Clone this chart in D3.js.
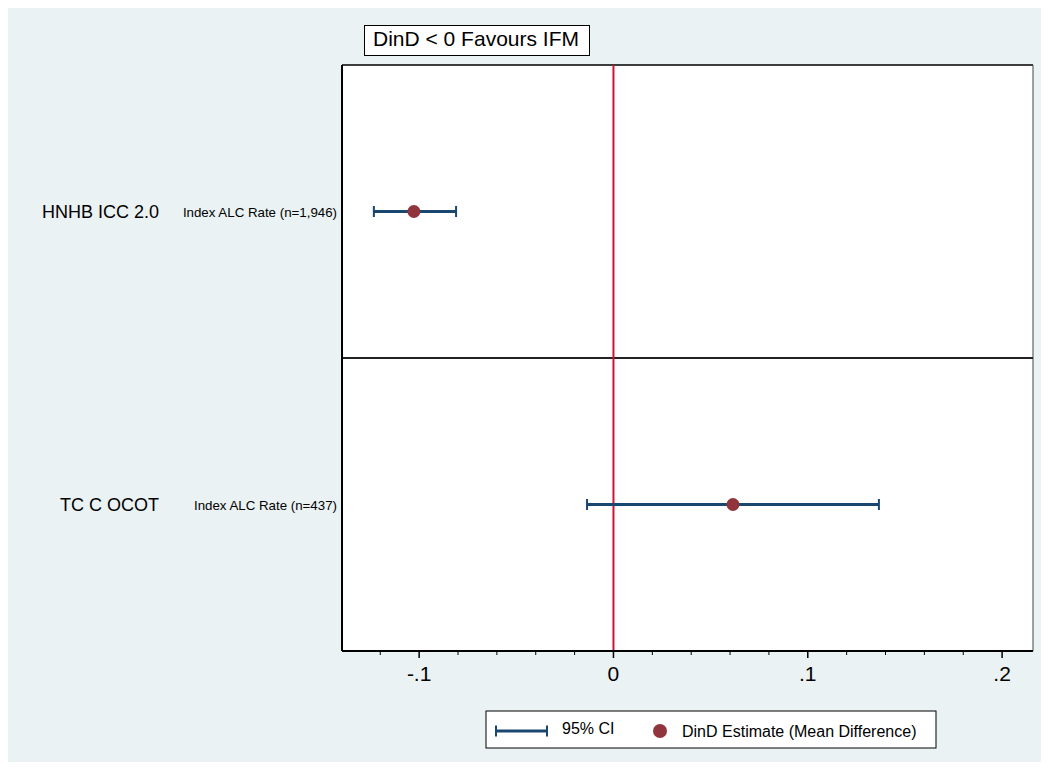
<!DOCTYPE html>
<html>
<head>
<meta charset="utf-8">
<script src="https://cdn.jsdelivr.net/npm/d3@7"></script>
<style>
  body { margin: 0; background: #ffffff; }
  text { font-family: "Liberation Sans", Arial, sans-serif; }
</style>
</head>
<body>
<div id="chart"></div>
<script>
// data
var studies = ["HNHB ICC 2.0", "TC C OCOT"];
var outcomes = ["Index ALC Rate (n=1,946)", "Index ALC Rate (n=437)"];
var estimates = [-0.1027, 0.0615];
var lower = [-0.1233, -0.0136];
var upper = [-0.0810, 0.1366];
var majorTicks = [-0.1, 0, 0.1, 0.2];
var tickLabels = ["-.1", "0", ".1", ".2"];
var minorTicks = [-0.12, -0.08, -0.06, -0.04, -0.02, 0.02, 0.04, 0.06, 0.08, 0.12, 0.14, 0.16, 0.18];

var W = 1049, H = 770;
var margin = {top: 65, right: 16, bottom: 119, left: 342},
    width = W - margin.left - margin.right,
    height = H - margin.top - margin.bottom;

var svg = d3.select("#chart")
  .append("svg")
    .attr("width", W)
    .attr("height", H);

// outer light background
svg.append("rect")
  .attr("x", 8).attr("y", 8)
  .attr("width", W - 16).attr("height", H - 16)
  .attr("fill", "#eaf2f3");

var g = svg.append("g")
  .attr("transform", "translate(" + margin.left + "," + margin.top + ")");

var x = d3.scaleLinear()
  .domain([-0.1397, 0.2159])
  .range([0, width]);

var y = d3.scaleBand()
  .domain(studies)
  .range([0, height]);

// plot region
g.append("rect")
  .attr("width", width).attr("height", height)
  .attr("fill", "#ffffff");

// frame and panel divider
g.append("line")
  .attr("x1", 0).attr("x2", width)
  .attr("y1", 0).attr("y2", 0)
  .attr("stroke", "#000").attr("stroke-width", 1.5);
g.append("line")
  .attr("x1", width).attr("x2", width)
  .attr("y1", 0).attr("y2", height)
  .attr("stroke", "#444").attr("stroke-width", 1);
g.append("line")
  .attr("x1", 0).attr("x2", width)
  .attr("y1", y(studies[1])).attr("y2", y(studies[1]))
  .attr("stroke", "#222").attr("stroke-width", 2);
g.append("line")
  .attr("x1", 0).attr("x2", 0)
  .attr("y1", 0).attr("y2", height)
  .attr("stroke", "#000").attr("stroke-width", 2);

// reference line at 0
g.append("line")
  .attr("x1", x(0)).attr("x2", x(0))
  .attr("y1", 0).attr("y2", height)
  .attr("stroke", "#d0103a").attr("stroke-width", 2);

// x axis
var xAxis = g.append("g")
  .attr("transform", "translate(0," + height + ")");
xAxis.append("line")
  .attr("x1", 0).attr("x2", width)
  .attr("stroke", "#000").attr("stroke-width", 2);
xAxis.selectAll(".minor")
  .data(minorTicks)
  .enter()
  .append("line")
    .attr("x1", function(d) { return x(d); })
    .attr("x2", function(d) { return x(d); })
    .attr("y1", 0).attr("y2", 4)
    .attr("stroke", "#000").attr("stroke-width", 1);
xAxis.selectAll(".major")
  .data(majorTicks)
  .enter()
  .append("line")
    .attr("x1", function(d) { return x(d); })
    .attr("x2", function(d) { return x(d); })
    .attr("y1", 0).attr("y2", 7)
    .attr("stroke", "#000").attr("stroke-width", 1.5);
xAxis.selectAll(".lab")
  .data(majorTicks)
  .enter()
  .append("text")
    .attr("x", function(d) { return x(d); })
    .attr("y", 30)
    .attr("text-anchor", "middle")
    .style("font-size", "21px")
    .text(function(d, i) { return tickLabels[i]; });

// row labels
var rowMid = function(d) { return y(d) + y.bandwidth() / 2; };
g.selectAll(".study")
  .data(studies)
  .enter()
  .append("text")
    .attr("x", 159 - margin.left)
    .attr("y", function(d) { return rowMid(d) + 6; })
    .attr("text-anchor", "end")
    .style("font-size", "18px")
    .text(function(d) { return d; });
g.selectAll(".outcome")
  .data(outcomes)
  .enter()
  .append("text")
    .attr("x", -5)
    .attr("y", function(d, i) { return rowMid(studies[i]) + 5; })
    .attr("text-anchor", "end")
    .style("font-size", "13.3px")
    .text(function(d) { return d; });

// CI bars
var ci = g.selectAll(".ci")
  .data(studies)
  .enter()
  .append("g");
ci.append("line")
  .attr("x1", function(d, i) { return x(lower[i]); })
  .attr("x2", function(d, i) { return x(upper[i]); })
  .attr("y1", rowMid).attr("y2", rowMid)
  .attr("stroke", "#1a476f").attr("stroke-width", 3);
ci.append("line")
  .attr("x1", function(d, i) { return x(lower[i]); })
  .attr("x2", function(d, i) { return x(lower[i]); })
  .attr("y1", function(d) { return rowMid(d) - 5.5; })
  .attr("y2", function(d) { return rowMid(d) + 5.5; })
  .attr("stroke", "#1a476f").attr("stroke-width", 2);
ci.append("line")
  .attr("x1", function(d, i) { return x(upper[i]); })
  .attr("x2", function(d, i) { return x(upper[i]); })
  .attr("y1", function(d) { return rowMid(d) - 5.5; })
  .attr("y2", function(d) { return rowMid(d) + 5.5; })
  .attr("stroke", "#1a476f").attr("stroke-width", 2);

// point estimates
g.selectAll(".est")
  .data(studies)
  .enter()
  .append("circle")
    .attr("cx", function(d, i) { return x(estimates[i]); })
    .attr("cy", rowMid)
    .attr("r", 6.5)
    .attr("fill", "#90353b");

// title box
svg.append("rect")
  .attr("x", 364.5).attr("y", 25.5)
  .attr("width", 225).attr("height", 30)
  .attr("fill", "#ffffff").attr("stroke", "#000").attr("stroke-width", 1);
svg.append("text")
  .attr("x", 373).attr("y", 46)
  .style("font-size", "21px")
  .text("DinD < 0 Favours IFM");

// legend
var leg = svg.append("g");
leg.append("rect")
  .attr("x", 486).attr("y", 711)
  .attr("width", 450).attr("height", 37)
  .attr("fill", "#ffffff").attr("stroke", "#000").attr("stroke-width", 1);
leg.append("line")
  .attr("x1", 496).attr("x2", 547).attr("y1", 731).attr("y2", 731)
  .attr("stroke", "#1a476f").attr("stroke-width", 3);
leg.selectAll(".cap")
  .data([496, 547])
  .enter()
  .append("line")
    .attr("x1", function(d) { return d; }).attr("x2", function(d) { return d; })
    .attr("y1", 725.5).attr("y2", 736.5)
    .attr("stroke", "#1a476f").attr("stroke-width", 2);
leg.append("text")
  .attr("x", 562).attr("y", 734)
  .style("font-size", "16px")
  .text("95% CI");
leg.append("circle")
  .attr("cx", 660).attr("cy", 731).attr("r", 7)
  .attr("fill", "#90353b");
leg.append("text")
  .attr("x", 682).attr("y", 737)
  .style("font-size", "16px")
  .text("DinD Estimate (Mean Difference)");
</script>
</body>
</html>
